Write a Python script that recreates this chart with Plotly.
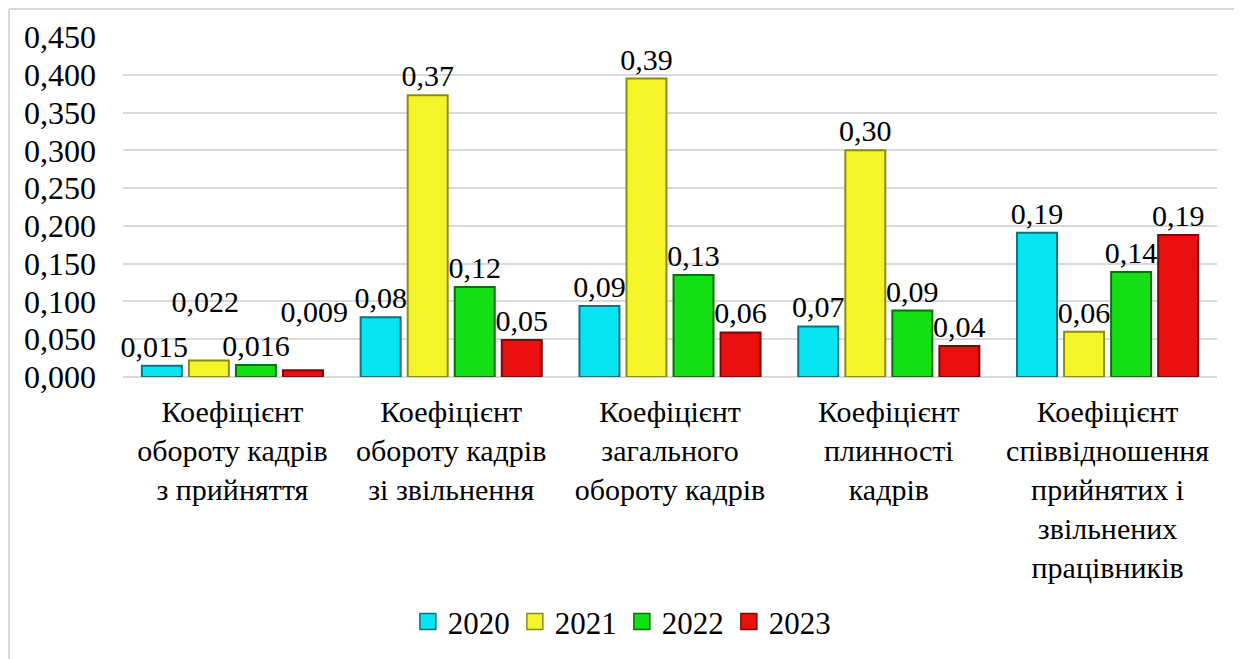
import plotly.graph_objects as go

categories = [
    "Коефіцієнт<br>обороту кадрів<br>з прийняття",
    "Коефіцієнт<br>обороту кадрів<br>зі звільнення",
    "Коефіцієнт<br>загального<br>обороту кадрів",
    "Коефіцієнт<br>плинності<br>кадрів",
    "Коефіцієнт<br>співвідношення<br>прийнятих і<br>звільнених<br>працівників",
]
years = ["2020", "2021", "2022", "2023"]
v2020 = [0.015, 0.079, 0.094, 0.067, 0.191]
v2021 = [0.022, 0.373, 0.395, 0.300, 0.060]
v2022 = [0.016, 0.119, 0.135, 0.088, 0.139]
v2023 = [0.009, 0.049, 0.059, 0.041, 0.188]
# data labels (the crowded first group is staggered so labels do not collide)
NB = "\u00a0"
t2020 = ["0,015" + NB * 2, "0,08", "0,09", "0,07", "0,19"]
t2021 = ["0,022" + NB + "<br> ", "0,37", "0,39", "0,30", "0,06"]
t2022 = ["0,016", "0,12", "0,13", "0,09", "0,14"]
t2023 = [NB * 3 + "0,009" + "<br> ", "0,05", "0,06", "0,04", "0,19"]
tick_vals = [0, 0.05, 0.1, 0.15, 0.2, 0.25, 0.3, 0.35, 0.4, 0.45]
tick_text = ["0,000", "0,050", "0,100", "0,150", "0,200", "0,250", "0,300", "0,350", "0,400", "0,450"]

series = [v2020, v2021, v2022, v2023]
texts = [t2020, t2021, t2022, t2023]
fills = ["#08E4F2", "#F4F42A", "#14DE14", "#EA1010"]
edges = ["#0A7480", "#8C8C14", "#0A700A", "#7C0808"]

font = "Liberation Serif"
fig = go.Figure()
for y, vals, txt, fc, ec in zip(years, series, texts, fills, edges):
    fig.add_trace(go.Bar(
        name=y, x=categories, y=vals, text=txt,
        textposition="outside", cliponaxis=False, constraintext="none",
        textfont=dict(family=font, size=30, color="black"),
        marker=dict(color=fc, line=dict(color=ec, width=2)),
        showlegend=False,
    ))
# legend entries
for y, fc, ec in zip(years, fills, edges):
    fig.add_trace(go.Scatter(
        name=y, x=[None], y=[None], mode="markers",
        marker=dict(symbol="square", size=16, color=fc, line=dict(color=ec, width=1.5)),
        showlegend=True,
    ))

fig.update_layout(
    width=1242, height=659,
    barmode="group", bargap=0.14, bargroupgap=0.15,
    paper_bgcolor="white", plot_bgcolor="white",
    margin=dict(l=115, r=33, t=29, b=290),
    font=dict(family=font, size=30, color="black"),
    showlegend=True,
    legend=dict(orientation="h", x=0.456, xanchor="center", y=-0.72, yanchor="middle",
                font=dict(family=font, size=31), itemwidth=30, traceorder="normal",
                tracegroupgap=0, bgcolor="rgba(0,0,0,0)"),
    yaxis=dict(range=[0, 0.45], tickvals=tick_vals, ticktext=tick_text,
               showgrid=True, gridcolor="#D9D9D9", gridwidth=1.5,
               zeroline=True, zerolinecolor="#D9D9D9", zerolinewidth=1.5,
               tickfont=dict(family=font, size=32), ticklabelstandoff=26,
               showline=False),
    xaxis=dict(tickfont=dict(family=font, size=30), showline=False, ticks="",
               ticklabelstandoff=14),
)
# outer chart border (left and top edges are the visible ones)
fig.add_shape(type="line", xref="paper", yref="paper",
              x0=-0.1042, x1=-0.1042, y0=1.0824, y1=-0.86,
              line=dict(color="#D9D9D9", width=2))
fig.add_shape(type="line", xref="paper", yref="paper",
              x0=-0.1042, x1=1.04, y0=1.0824, y1=1.0824,
              line=dict(color="#D9D9D9", width=2))
fig.write_html("out.html")
